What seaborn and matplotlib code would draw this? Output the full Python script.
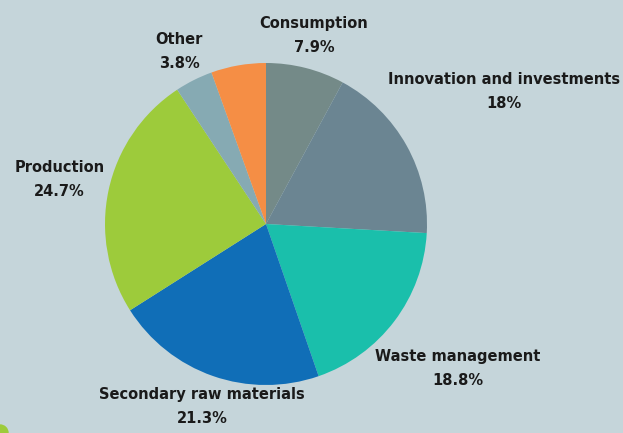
import numpy as np
import seaborn as sns
import matplotlib.pyplot as plt
from matplotlib.patches import Circle

# slice data, clockwise from 12 o'clock
labels = ['Consumption', 'Innovation and investments', 'Waste management',
          'Secondary raw materials', 'Production', 'Other', '']
shares = [7.9, 18, 18.8, 21.3, 24.7, 3.8, 5.5]
pct_text = ['7.9%', '18%', '18.8%', '21.3%', '24.7%', '3.8%', '']
colors = ['#748a88', '#6b8592', '#1abfab', '#106eb7', '#9dcb3b', '#86aab3', '#f58e45']
# how far out each label sits, in pie radii
label_dist = [1.21, 1.69, 1.49, 1.2, 1.31, 1.2, 1.2]

bg = '#c5d5da'
sns.set_style('white')
plt.rcParams['font.family'] = ['DejaVu Sans']

fig = plt.figure(figsize=(6.23, 4.33), dpi=100, facecolor=bg)
ax = fig.add_axes([0, 0, 1, 1])
ax.set_facecolor(bg)

cx, cy, r = 266, 209, 161
wedges, _ = ax.pie(shares, colors=colors, startangle=90, counterclock=False,
                   center=(cx, cy), radius=r, wedgeprops={'linewidth': 0})

for w, lab, pct, d in zip(wedges, labels, pct_text, label_dist):
    if not lab:
        continue
    mid = np.deg2rad((w.theta1 + w.theta2) / 2)
    x = cx + d * r * np.cos(mid)
    y = cy + d * r * np.sin(mid)
    ax.text(x, y, f'{lab}\n{pct}', ha='center', va='center', fontsize=10.5,
            fontweight='bold', color='#1a1a1a', linespacing=1.75)

# little green decoration in the bottom-left corner
ax.add_patch(Circle((0, 0), 8, color='#9dcb3b', clip_on=True))

ax.set_xlim(0, 623)
ax.set_ylim(0, 433)
ax.set_aspect('equal')
ax.axis('off')
fig.savefig('out.png', dpi=100, facecolor=bg)
